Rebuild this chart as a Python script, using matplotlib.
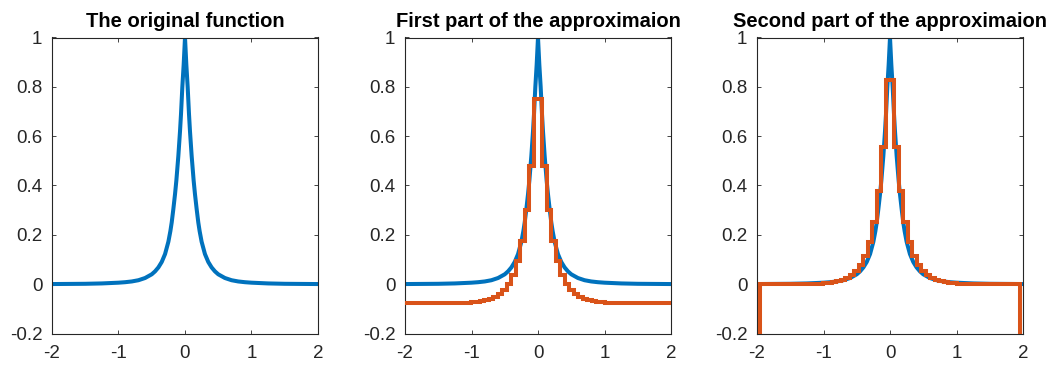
import matplotlib
matplotlib.use("Agg")
import matplotlib.pyplot as plt

plt.rcParams['font.family'] = ['Liberation Sans', 'DejaVu Sans']
plt.rcParams['axes.unicode_minus'] = False

# ---- data ----
# original function (right half, symmetric about 0)
orig_x_half = [0.0, 0.02, 0.04, 0.06, 0.075, 0.10, 0.13, 0.15, 0.175, 0.20, 0.22, 0.25, 0.30,
               0.35, 0.40, 0.45, 0.50, 0.60, 0.70, 0.80, 0.90, 1.00, 1.25, 1.50, 2.00]
orig_y_half = [1.0, 0.89, 0.80, 0.69, 0.62, 0.52, 0.42, 0.365, 0.305, 0.25, 0.215, 0.172, 0.122,
               0.09, 0.068, 0.052, 0.040, 0.025, 0.016, 0.011, 0.008, 0.006, 0.003, 0.0015, 0.0005]

# step edges (right half) of the piecewise-constant approximations
step_edges_half = [0.0675, 0.135, 0.2025, 0.27, 0.3375, 0.405, 0.4725, 0.54, 0.6075, 0.675,
                   0.7425, 0.81, 0.8775, 0.945, 1.0125, 1.08, 1.1475, 1.215, 1.2825, 1.35,
                   1.4175, 1.485, 1.5525, 1.62, 1.6875, 1.755, 1.8225, 1.89, 1.9575]
# levels: central cell first, then outward
second_levels_half = [0.826, 0.558, 0.376, 0.254, 0.172, 0.116, 0.078, 0.053, 0.036, 0.024,
                      0.016, 0.011, 0.0074, 0.005, 0.0034, 0.0023, 0.0015, 0.001, 0.0007,
                      0.0005, 0.0003, 0.0002, 0.0001, 0.0001, 0.0, 0.0, 0.0, 0.0, 0.0]
second_outer_level = -1.0
first_levels_half = [0.749, 0.481, 0.299, 0.177, 0.095, 0.039, 0.001, -0.024, -0.041, -0.053,
                     -0.061, -0.066, -0.070, -0.072, -0.074, -0.075, -0.076, -0.076, -0.077,
                     -0.077, -0.077, -0.077, -0.077, -0.077, -0.077, -0.077, -0.077, -0.077, -0.077]
first_outer_level = -0.077

titles = ["The original function", "First part of the approximaion",
          "Second part of the approximaion"]
xticks = [-2, -1, 0, 1, 2]
xticklabels = ["-2", "-1", "0", "1", "2"]
yticks = [-0.2, 0, 0.2, 0.4, 0.6, 0.8, 1]
yticklabels = ["-0.2", "0", "0.2", "0.4", "0.6", "0.8", "1"]

# ---- assemble symmetric series ----
orig_x = [-v for v in reversed(orig_x_half[1:])] + orig_x_half
orig_y = list(reversed(orig_y_half[1:])) + orig_y_half
edges = [-2.0] + [-v for v in reversed(step_edges_half)] + step_edges_half + [2.0]

def sym_levels(half, outer):
    return [outer] + list(reversed(half[1:])) + [half[0]] + half[1:] + [outer]

second_vals = sym_levels(second_levels_half, second_outer_level)
first_vals = sym_levels(first_levels_half, first_outer_level)

BLUE = '#0072BD'
ORANGE = '#D95319'
AXC = '#262626'

W, H = 1059, 366
fig = plt.figure(figsize=(W / 100, H / 100), dpi=100)
lefts = [52, 405, 757]
axw = 266
top, bottom = 37.5, 333.5

for i, l in enumerate(lefts):
    ax = fig.add_axes([l / W, (H - bottom) / H, axw / W, (bottom - top) / H])
    ax.plot(orig_x, orig_y, color=BLUE, lw=2.9, solid_joinstyle='round', zorder=2)
    if i == 1:
        ax.stairs(first_vals, edges, color=ORANGE, lw=2.9, baseline=None, zorder=3)
    elif i == 2:
        ax.stairs(second_vals, edges, color=ORANGE, lw=2.9, baseline=None, zorder=3)
    ax.set_xlim(-2, 2)
    ax.set_ylim(-0.2, 1)
    ax.set_xticks(xticks)
    ax.set_xticklabels(xticklabels)
    ax.set_yticks(yticks)
    ax.set_yticklabels(yticklabels)
    ax.tick_params(direction='in', length=3, width=0.6, colors=AXC, labelsize=13.5,
                   top=True, right=True)
    ax.tick_params(axis='x', pad=8)
    ax.tick_params(axis='y', pad=7)
    for sp in ax.spines.values():
        sp.set_color(AXC)
        sp.set_linewidth(0.8)
    ax.set_title(titles[i], fontsize=14.5, fontweight='bold', color='black', pad=7.5)

fig.savefig('out.png', dpi=100)
